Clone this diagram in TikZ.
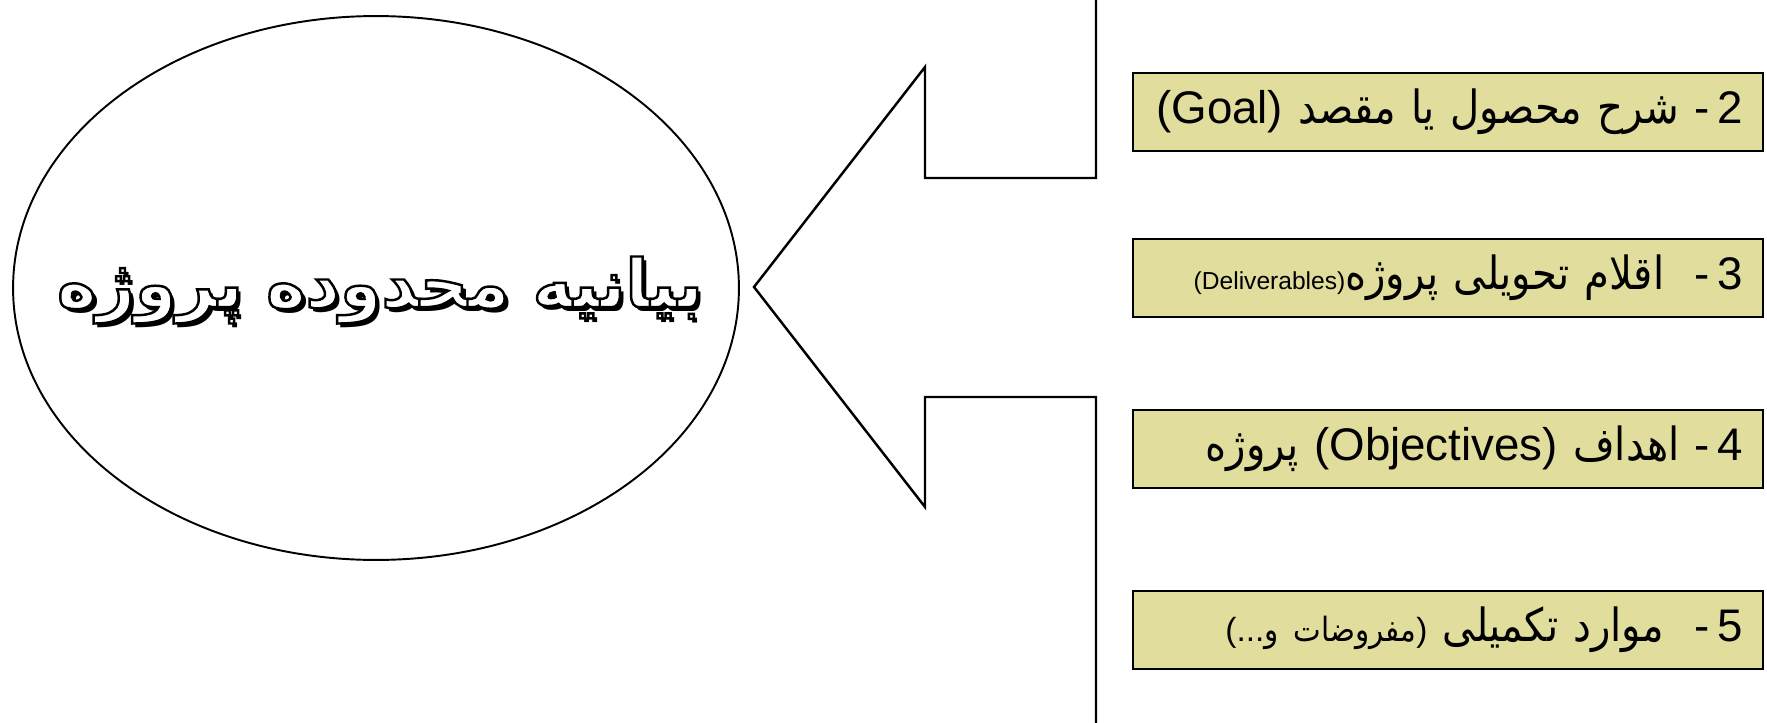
\documentclass[tikz,border=0pt]{standalone}
\usepackage{fontspec}
\setmainfont{Liberation Sans}
\newfontfamily\farsi[Script=Arabic, FakeStretch=0.88]{DejaVu Sans}
\newfontfamily\titlefont[Script=Arabic]{DejaVu Sans}
\TeXXeTstate=1
\usetikzlibrary{shapes.geometric}

\definecolor{itemfill}{RGB}{224,221,157}
\newcommand{\fa}[1]{{\farsi\beginR #1\endR}}
\newcommand{\outlined}[1]{{\color{white}\special{pdf:literal direct q 2 Tr 1.4 w 0 G}#1\special{pdf:literal direct Q}}}
\newcommand{\titletext}{\fontsize{38}{46}\selectfont\titlefont\bfseries\beginR بیانیه محدوده پروژه\endR}
\newcommand{\shadowed}[1]{\makebox[0pt][l]{\kern0.08cm\raisebox{-0.08cm}{#1}}\outlined{#1}}

\tikzset{
  scopeoval/.style={draw, ellipse, line width=1.1pt, minimum width=14.52cm, minimum height=10.88cm, inner sep=0pt},
  callout/.style={draw, line width=1.4pt, line join=miter},
  itembox/.style={draw, line width=1.2pt, fill=itemfill, minimum width=12.6cm, minimum height=1.56cm,
    inner xsep=0.4cm, inner ysep=0pt, text width=11.8cm, align=right, font=\fontsize{26}{30}\selectfont}
}

\begin{document}
\begin{tikzpicture}[x=0.02cm, y=-0.02cm]
 \useasboundingbox (0,0) rectangle (1767,723);
 % left oval
 \node[scopeoval] (scope) at (376,288) {};
 \node (title) at (380,292) {\shadowed{\titletext}};
 % arrow towards the oval
 \draw[callout] (1096,0) |- (925,178) -- (925,67) -- (754,287)
   -- (925,507) -- (925,397) -| (1096,723);
 % items
 \node[itembox] (goal) at (1448,112) {(Goal) \fa{شرح محصول یا مقصد} -\,2};
 \node[itembox] (deliv) at (1448,278) {{\fontsize{14}{16}\selectfont(Deliverables)}\fa{اقلام تحویلی پروژه} \ -\,3};
 \node[itembox] (obj) at (1448,449) {\fa{پروژه} (Objectives) \fa{اهداف} -\,4};
 \node[itembox] (misc) at (1448,630) {{\fontsize{19}{21}\selectfont(...\fa{مفروضات و})} \fa{موارد تکمیلی} \ -\,5};
\end{tikzpicture}
\end{document}
